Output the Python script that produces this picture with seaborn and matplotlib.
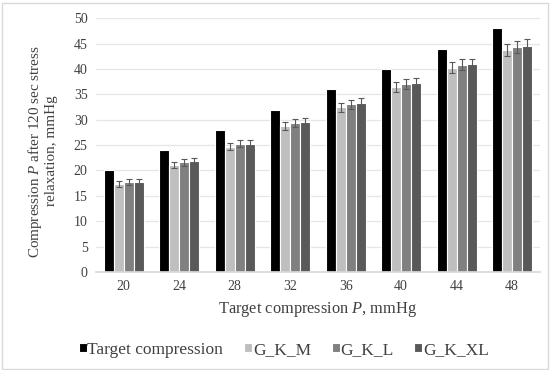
import matplotlib
matplotlib.use("Agg")
import matplotlib.pyplot as plt
import seaborn as sns
import pandas as pd
import numpy as np

categories = ["20", "24", "28", "32", "36", "40", "44", "48"]
target = [20, 24, 28, 32, 36, 40, 44, 48]
g_k_m = [17.3, 21.0, 24.7, 28.8, 32.4, 36.5, 40.2, 43.8]
g_k_l = [17.8, 21.6, 25.3, 29.3, 33.0, 37.0, 40.8, 44.3]
g_k_xl = [17.8, 21.8, 25.3, 29.6, 33.3, 37.3, 41.0, 44.6]
err_m = [0.6, 0.6, 0.7, 0.8, 0.9, 1.0, 1.1, 1.2]
err_l = [0.6, 0.7, 0.7, 0.8, 0.9, 1.0, 1.1, 1.1]
err_xl = [0.6, 0.7, 0.7, 0.8, 0.9, 1.0, 1.0, 1.2]
series = ["Target compression", "G_K_M", "G_K_L", "G_K_XL"]
colors = ["#000000", "#bfbfbf", "#808080", "#595959"]

sns.set_theme(style="white")
plt.rcParams["font.family"] = ["Liberation Serif", "DejaVu Serif"]
plt.rcParams["mathtext.fontset"] = "custom"
plt.rcParams["mathtext.rm"] = "Liberation Serif"
plt.rcParams["mathtext.it"] = "Liberation Serif:italic"

rows = []
for s, vals in zip(series, [target, g_k_m, g_k_l, g_k_xl]):
    for c, v in zip(categories, vals):
        rows.append({"cat": c, "series": s, "value": v})
df = pd.DataFrame(rows)

fig = plt.figure(figsize=(5.5, 3.7), dpi=100)
ax = fig.add_axes([0.1745, 0.265, 0.807, 0.686])
sns.barplot(data=df, x="cat", y="value", hue="series", hue_order=series,
            palette=colors, width=0.72, edgecolor="white", linewidth=0.8,
            saturation=1, ax=ax, legend=True)

for cont, errs in zip(ax.containers[1:], [err_m, err_l, err_xl]):
    xs = [p.get_x() + p.get_width() / 2 for p in cont.patches]
    ys = [p.get_height() for p in cont.patches]
    ax.errorbar(xs, ys, yerr=errs, fmt="none", ecolor="#595959",
                elinewidth=0.8, capsize=2.2, capthick=0.8, zorder=5)

ax.set_ylim(0, 50)
ax.set_yticks(np.arange(0, 51, 5))
ax.set_xlim(-0.5, 7.5)
ax.yaxis.grid(True, color="#e6e6e6", linewidth=0.9)
ax.set_axisbelow(True)
for sp in ["top", "right", "left"]:
    ax.spines[sp].set_visible(False)
ax.spines["bottom"].set_color("#d9d9d9")
ax.tick_params(axis="both", labelsize=10, colors="#404040", length=0, pad=6)
ax.set_xlabel("Target compression $P$, mmHg", fontsize=11.8, color="#404040", labelpad=5)
ax.set_ylabel("Compression $P$ after 120 sec stress\nrelaxation, mmHg",
              fontsize=10.9, color="#404040", linespacing=1.1)
ax.yaxis.set_label_coords(-0.085, 0.476)

h, l = ax.get_legend_handles_labels()
ax.legend_.remove()
fig.legend(h, l, loc="center", bbox_to_anchor=(0.516, 0.055), ncol=4, frameon=False,
           fontsize=12.5, handlelength=0.45, handleheight=0.45, handletextpad=0.05,
           columnspacing=1.2, labelcolor="#404040")

fig.patches.append(plt.Rectangle((0.003, 0.003), 0.994, 0.99, transform=fig.transFigure,
                                 fill=False, edgecolor="#d9d9d9", linewidth=1))
fig.savefig("out.png", dpi=100)
